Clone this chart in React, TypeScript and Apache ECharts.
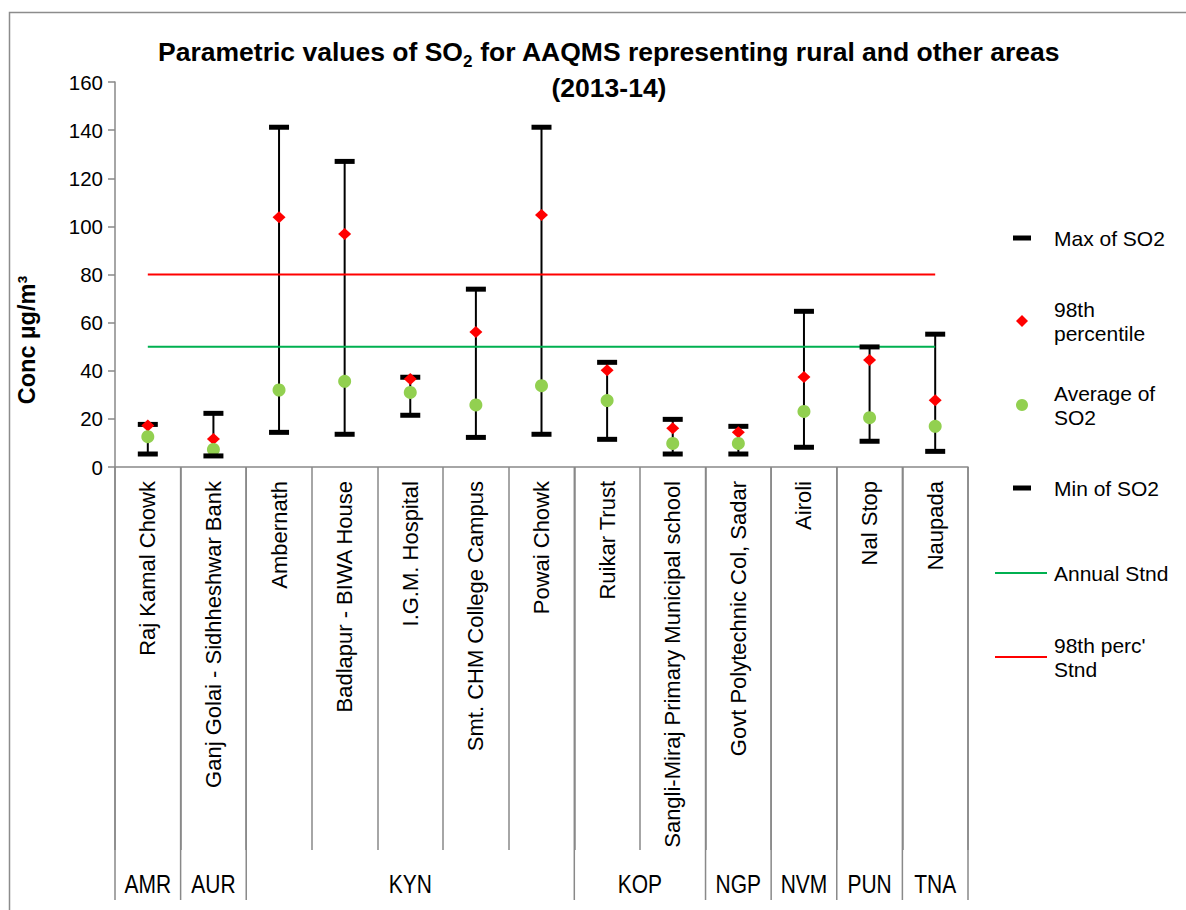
import React, { useEffect, useRef } from "react";
import * as echarts from "echarts";

const categories = [
  "Raj Kamal Chowk",
  "Ganj Golai - Sidhheshwar Bank",
  "Ambernath",
  "Badlapur - BIWA House",
  "I.G.M. Hospital",
  "Smt. CHM College Campus",
  "Powai Chowk",
  "Ruikar Trust",
  "Sangli-Miraj Primary Municipal school",
  "Govt Polytechnic Col, Sadar",
  "Airoli",
  "Nal Stop",
  "Naupada",
];
const groups = ["AMR", "AUR", "KYN", "KOP", "NGP", "NVM", "PUN", "TNA"];
const groupSpans = [1, 1, 5, 2, 1, 1, 1, 1];

const maxVals = [17.7, 22.3, 141.2, 127.0, 37.3, 73.9, 141.2, 43.5, 19.8, 16.9, 64.7, 49.9, 55.2];
const perc98 = [17.2, 11.6, 103.8, 96.8, 36.6, 56.1, 104.7, 40.2, 16.1, 14.4, 37.4, 44.5, 27.7];
const avgVals = [12.6, 7.3, 32.0, 35.6, 31.0, 25.8, 33.8, 27.6, 9.8, 9.8, 23.1, 20.5, 16.9];
const minVals = [5.4, 4.6, 14.4, 13.6, 21.5, 12.3, 13.6, 11.5, 5.4, 5.4, 8.2, 10.7, 6.5];
const annualStnd = [50, 50, 50, 50, 50, 50, 50, 50, 50, 50, 50, 50, 50];
const perc98Stnd = [80, 80, 80, 80, 80, 80, 80, 80, 80, 80, 80, 80, 80];
const yTicks = { min: 0, max: 160, interval: 20 };

const FONT = "'Liberation Sans', Arial, sans-serif";
const AXIS_GRAY = "#898989";

export default function App() {
  const ref = useRef<HTMLDivElement>(null);
  useEffect(() => {
    if (!ref.current) return;
    const chart = echarts.init(ref.current, undefined, { renderer: "svg" });
    const legendText = (pad: number[]) => ({
      fontFamily: FONT,
      fontSize: 21,
      lineHeight: 24,
      color: "#000",
      padding: pad,
    });
    const names: Record<string, string> = {
      "98th percentile": "98th\npercentile",
      "Average of SO2": "Average of\nSO2",
      "98th perc' Stnd": "98th perc'\nStnd",
    };
    const fmt = (n: string) => names[n] || n;
    chart.setOption({
      animation: false,
      title: {
        text: "{a|Parametric values of SO}{s|2}{a| for AAQMS representing rural and other areas}\n{a|(2013-14)}",
        left: 604,
        top: 29,
        textAlign: "center",
        textStyle: {
          rich: {
            a: { fontFamily: FONT, fontWeight: "bold", fontSize: 26.5, lineHeight: 36, color: "#000" },
            s: { fontFamily: FONT, fontWeight: "bold", fontSize: 17, lineHeight: 36, color: "#000", verticalAlign: "bottom", padding: [10, 0, 0, 0] },
          },
        },
      },
      grid: { left: 115, top: 82, right: 218, bottom: 443 },
      legend: [
        { name: "Max of SO2", top: 226, left: 1013, icon: "rect", w: 18, h: 5, pad: [0, 0, 0, 18] },
        { name: "98th percentile", top: 285, left: 1016, icon: "diamond", w: 12, h: 12, pad: [24, 0, 0, 21] },
        { name: "Average of SO2", top: 369, left: 1016, icon: "circle", w: 12, h: 12, pad: [24, 0, 0, 21] },
        { name: "Min of SO2", top: 476, left: 1013, icon: "rect", w: 18, h: 5, pad: [0, 0, 0, 18] },
        { name: "Annual Stnd", top: 561, left: 995, icon: "rect", w: 52, h: 2, pad: [0, 0, 0, 2] },
        { name: "98th perc' Stnd", top: 621, left: 995, icon: "rect", w: 52, h: 2, pad: [24, 0, 0, 2] },
      ].map((l) => ({
        data: [{ name: l.name, icon: l.icon }],
        top: l.top,
        left: l.left,
        orient: "vertical",
        itemWidth: l.w,
        itemHeight: l.h,
        padding: 0,
        selectedMode: false,
        formatter: fmt,
        textStyle: legendText(l.pad),
      })),
      xAxis: {
        type: "category",
        data: categories,
        boundaryGap: true,
        axisLine: { lineStyle: { color: AXIS_GRAY, width: 1.5 } },
        axisTick: { show: true, interval: 0, length: 383, lineStyle: { color: AXIS_GRAY, width: 1.5 } },
        axisLabel: { rotate: 90, interval: 0, margin: 14, fontFamily: FONT, fontSize: 22, color: "#000" },
      },
      yAxis: {
        type: "value",
        min: yTicks.min,
        max: yTicks.max,
        interval: yTicks.interval,
        splitLine: { show: false },
        axisLine: { show: true, lineStyle: { color: AXIS_GRAY, width: 1.5 } },
        axisTick: { show: true, length: 7, lineStyle: { color: AXIS_GRAY, width: 1.5 } },
        axisLabel: { fontFamily: FONT, fontSize: 20.5, color: "#000", margin: 12 },
      },
      series: [
        {
          type: "custom",
          name: "range",
          z: 1,
          data: categories.map((c, i) => [i, minVals[i], maxVals[i]]),
          encode: { x: 0, y: [1, 2] },
          renderItem: (params: any, api: any) => {
            const lo = api.coord([api.value(0), api.value(1)]);
            const hi = api.coord([api.value(0), api.value(2)]);
            return {
              type: "line",
              shape: { x1: lo[0], y1: lo[1], x2: hi[0], y2: hi[1] },
              style: { stroke: "#000", lineWidth: 2 },
            };
          },
        },
        {
          type: "line",
          name: "Annual Stnd",
          data: annualStnd,
          symbol: "none",
          z: 2,
          lineStyle: { color: "#00B050", width: 2 },
          itemStyle: { color: "#00B050" },
        },
        {
          type: "line",
          name: "98th perc' Stnd",
          data: perc98Stnd,
          symbol: "none",
          z: 2,
          lineStyle: { color: "#FF0000", width: 2 },
          itemStyle: { color: "#FF0000" },
        },
        {
          type: "scatter",
          name: "Max of SO2",
          data: maxVals,
          symbol: "rect",
          symbolSize: [20, 5],
          z: 3,
          itemStyle: { color: "#000", opacity: 1 },
        },
        {
          type: "scatter",
          name: "98th percentile",
          data: perc98,
          symbol: "diamond",
          symbolSize: [13, 12],
          z: 4,
          itemStyle: { color: "#FF0000", opacity: 1 },
        },
        {
          type: "scatter",
          name: "Average of SO2",
          data: avgVals,
          symbol: "circle",
          symbolSize: 13,
          z: 5,
          itemStyle: { color: "#92D050", opacity: 1 },
        },
        {
          type: "scatter",
          name: "Min of SO2",
          data: minVals,
          symbol: "rect",
          symbolSize: [20, 5],
          z: 6,
          itemStyle: { color: "#000", opacity: 1 },
        },
      ],
    });

    // group table (multi-level category labels) built from the axis scale
    const c0 = chart.convertToPixel({ xAxisIndex: 0 }, 0) as number;
    const c1 = chart.convertToPixel({ xAxisIndex: 0 }, 1) as number;
    const band = c1 - c0;
    const x0 = c0 - band / 2;
    const yAxisPix = chart.convertToPixel({ yAxisIndex: 0 }, 0) as number;
    const graphics: any[] = [
      {
        type: "rect",
        shape: { x: 9.5, y: 12.5, width: 1200, height: 920 },
        style: { fill: "none", stroke: "#8c8c8c", lineWidth: 1.5 },
        silent: true,
      },
      {
        type: "text",
        x: 27,
        y: 340,
        rotation: Math.PI / 2,
        style: {
          text: "Conc µg/m³",
          fontFamily: FONT,
          fontWeight: "bold",
          fontSize: 23.5,
          fill: "#000",
          align: "center",
          verticalAlign: "middle",
        },
      },
    ];
    let k = 0;
    const bounds = [0];
    groupSpans.forEach((s) => {
      k += s;
      bounds.push(k);
    });
    bounds.forEach((b) => {
      const x = x0 + b * band;
      graphics.push({
        type: "line",
        shape: { x1: x, y1: yAxisPix, x2: x, y2: 900 },
        style: { stroke: AXIS_GRAY, lineWidth: 1.5 },
        silent: true,
      });
    });
    groups.forEach((g, i) => {
      const xa = x0 + bounds[i] * band;
      const xb = x0 + bounds[i + 1] * band;
      graphics.push({
        type: "text",
        x: (xa + xb) / 2,
        y: 884,
        scaleX: 0.84,
        style: {
          text: g,
          fontFamily: FONT,
          fontSize: 25,
          fill: "#000",
          align: "center",
          verticalAlign: "middle",
        },
      });
    });
    chart.setOption({ graphic: graphics });
    return () => chart.dispose();
  }, []);
  return (
    <div
      ref={ref}
      style={{ position: "absolute", left: 0, top: 0, width: 1186, height: 910, background: "#fff" }}
    />
  );
}
